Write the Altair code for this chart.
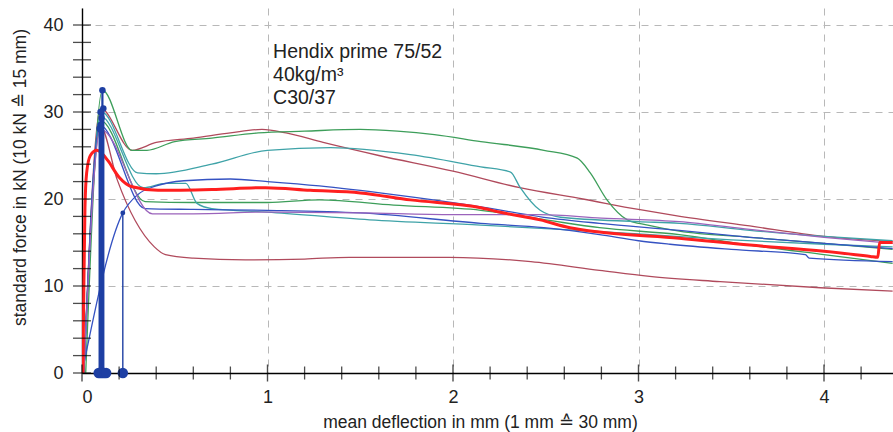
import altair as alt
import pandas as pd

# ---------------- data ----------------
series_names = ["brown_a", "brown_b", "green_a", "green_b", "teal_a", "teal_b", "blue_a", "blue_b", "purple", "mean"]
series_colors = ["#b04a5c", "#b04a5c", "#3d9e5a", "#3d9e5a", "#3fa3a8", "#3fa3a8", "#3552c2", "#3552c2", "#9b63bb", "#ff1f1f"]

brown_a_x = [0.01, 0.10, 0.27, 0.40, 0.60, 0.80, 0.97, 1.10, 1.30, 1.60, 2.00, 2.36, 2.70, 3.00, 3.20, 3.60, 4.00, 4.37]
brown_a_y = [0.0, 30.4, 25.6, 26.5, 27.0, 27.6, 28.0, 27.6, 26.5, 25.0, 23.2, 21.3, 20.0, 18.8, 18.1, 16.9, 15.7, 15.1]

brown_b_x = [0.01, 0.10, 0.19, 0.39, 0.45, 0.60, 0.88, 1.20, 1.44, 1.98, 2.42, 2.79, 3.06, 3.44, 3.98, 4.37]
brown_b_y = [0.0, 28.3, 22.2, 14.5, 13.6, 13.2, 13.0, 13.1, 13.3, 13.3, 12.8, 11.8, 11.1, 10.5, 9.8, 9.4]

green_a_x = [0.02, 0.11, 0.27, 0.35, 0.50, 0.70, 0.95, 1.20, 1.50, 1.70, 1.90, 2.15, 2.49, 2.67, 2.74, 2.83, 2.94, 3.05, 3.22, 3.60, 4.00, 4.37]
green_a_y = [0.0, 32.5, 25.6, 25.6, 26.6, 27.0, 27.6, 27.8, 28.0, 27.8, 27.4, 26.6, 25.6, 24.7, 23.0, 19.9, 17.6, 17.0, 16.3, 15.6, 14.9, 14.2]

green_b_x = [0.01, 0.10, 0.34, 0.60, 1.00, 1.28, 1.68, 2.15, 2.50, 2.79, 3.22, 3.60, 4.00, 4.37]
green_b_y = [0.0, 29.0, 19.7, 19.6, 19.6, 19.9, 19.3, 18.7, 17.6, 16.7, 15.9, 14.7, 13.6, 12.6]

teal_a_x = [0.01, 0.105, 0.30, 0.40, 0.70, 1.00, 1.34, 1.77, 2.15, 2.31, 2.36, 2.47, 2.58, 3.00, 3.22, 3.60, 4.00, 4.37]
teal_a_y = [0.0, 30.0, 23.0, 22.9, 24.0, 25.6, 25.9, 25.1, 23.7, 23.1, 21.4, 18.7, 17.9, 17.4, 17.2, 16.4, 15.7, 15.2]

teal_b_x = [0.01, 0.10, 0.33, 0.45, 0.56, 0.62, 0.70, 1.00, 1.55, 2.15, 2.50, 3.00, 3.50, 4.00, 4.37]
teal_b_y = [0.0, 29.5, 21.3, 21.8, 21.8, 19.5, 18.9, 18.5, 17.6, 17.0, 16.6, 16.0, 15.3, 14.8, 14.5]

blue_a_x = [0.00, 0.22, 0.30, 0.40, 0.55, 0.80, 1.00, 1.28, 1.68, 2.15, 2.49, 2.79, 3.22, 3.60, 4.00, 4.37]
blue_a_y = [0.0, 18.4, 20.5, 21.5, 22.1, 22.3, 22.0, 21.5, 20.5, 19.1, 17.9, 17.2, 16.4, 15.6, 14.9, 14.3]

blue_b_x = [0.01, 0.095, 0.34, 0.60, 1.00, 1.50, 2.15, 2.49, 2.79, 3.00, 3.17, 3.50, 3.90, 3.92, 4.37]
blue_b_y = [0.0, 28.5, 18.9, 18.8, 18.7, 18.4, 17.2, 16.7, 15.9, 15.2, 14.8, 14.2, 13.6, 13.2, 12.8]

purple_x = [0.01, 0.10, 0.38, 0.60, 1.00, 1.50, 2.00, 2.47, 2.80, 3.22, 3.60, 4.00, 4.37]
purple_y = [0.0, 28.0, 18.3, 18.3, 18.5, 18.4, 18.2, 18.2, 17.8, 17.4, 16.5, 15.6, 14.9]

mean_x = [0.005, 0.010, 0.016, 0.025, 0.045, 0.08, 0.11, 0.14, 0.20, 0.27, 0.41, 0.70, 0.99, 1.23, 1.50, 1.77,
          2.15, 2.25, 2.47, 2.63, 2.79, 3.22, 3.60, 4.00, 4.25, 4.29, 4.30, 4.37]
mean_y = [0.0, 10.0, 19.0, 23.0, 25.0, 25.6, 25.2, 24.4, 22.5, 21.4, 21.0, 21.1, 21.3, 21.0, 20.7, 19.9,
          19.0, 18.5, 17.6, 16.7, 16.2, 15.5, 14.7, 14.0, 13.4, 13.3, 15.0, 15.0]

# crack (peak) markers of the specimens
peak_x = [0.11, 0.115, 0.10, 0.105, 0.10, 0.095, 0.10]
peak_y = [32.5, 30.4, 30.0, 29.3, 28.5, 28.1, 28.0]
late_peak_x = [0.22]
late_peak_y = [18.4]
base_x = [0.09, 0.10, 0.11, 0.12, 0.13]

annotation_lines = ["Hendix prime 75/52", "40kg/m³", "C30/37"]
annotation_x = [1.03, 1.03, 1.03]
annotation_y = [36.2, 33.56, 30.92]

x_label_values = [0, 1, 2, 3, 4]
y_label_values = [0, 10, 20, 30, 40]
x_minor_ticks = [0.2, 0.4, 0.6, 0.8, 1.2, 1.4, 1.6, 1.8, 2.2, 2.4, 2.6, 2.8, 3.2, 3.4, 3.6, 3.8, 4.2]
y_ticks = [0, 2, 4, 6, 8, 10, 12, 14, 16, 18, 20, 22, 24, 26, 28, 30, 32, 34, 36, 38, 40]

# ---------------- tables ----------------
curves = {
    "brown_a": (brown_a_x, brown_a_y), "brown_b": (brown_b_x, brown_b_y),
    "green_a": (green_a_x, green_a_y), "green_b": (green_b_x, green_b_y),
    "teal_a": (teal_a_x, teal_a_y), "teal_b": (teal_b_x, teal_b_y),
    "blue_a": (blue_a_x, blue_a_y), "blue_b": (blue_b_x, blue_b_y),
    "purple": (purple_x, purple_y),
}
rows = []
for name, (xs, ys) in curves.items():
    for i, (a, b) in enumerate(zip(xs, ys)):
        rows.append({"series": name, "x": a, "y": b, "ord": i})
thin_df = pd.DataFrame(rows)
mean_df = pd.DataFrame({"series": "mean", "x": mean_x, "y": mean_y, "ord": range(len(mean_x))})

rule_df = pd.DataFrame({"x": peak_x, "y": [0] * len(peak_x), "y2": peak_y})
late_rule_df = pd.DataFrame({"x": late_peak_x, "y": [0], "y2": late_peak_y})
top_df = pd.DataFrame({"x": peak_x, "y": peak_y})
late_top_df = pd.DataFrame({"x": late_peak_x, "y": late_peak_y})
bottom_df = pd.DataFrame({"x": base_x + late_peak_x, "y": [0] * (len(base_x) + 1)})
text_df = pd.DataFrame({"x": annotation_x, "y": annotation_y, "t": annotation_lines})
xmin_df = pd.DataFrame({"x": x_minor_ticks, "y": [0] * len(x_minor_ticks)})
xmaj_df = pd.DataFrame({"x": x_label_values, "y": [0] * len(x_label_values)})
yt_df = pd.DataFrame({"x": [0] * len(y_ticks), "y": y_ticks})

FONT = "Liberation Sans"
x_scale = alt.Scale(domain=[0, 811 / 185.5], nice=False, zero=False)
y_scale = alt.Scale(domain=[0, 365 / 8.7], nice=False, zero=False)

x_axis = alt.Axis(values=x_label_values, format="d", title="mean deflection in mm (1 mm ≙ 30 mm)",
                  grid=True, gridDash=[7, 6], gridColor="#b8b8b8", gridWidth=1,
                  domainColor="black", domainWidth=1.4, tickSize=0, labelPadding=15,
                  labelFont=FONT, labelFontSize=18, labelColor="#222",
                  titleFont=FONT, titleFontSize=17.5, titleFontWeight="normal", titleColor="#222",
                  titleX=398, titleY=49, titleBaseline="middle", titleAlign="center")
y_axis = alt.Axis(values=y_label_values, format="d", title="standard force in kN (10 kN ≙ 15 mm)",
                  grid=True, gridDash=[7, 6], gridColor="#b8b8b8", gridWidth=1,
                  domainColor="black", domainWidth=1.4, tickSize=0, labelPadding=19,
                  labelFont=FONT, labelFontSize=18, labelColor="#222",
                  titleFont=FONT, titleFontSize=17.5, titleFontWeight="normal", titleColor="#222",
                  titleX=-62, titleY=169, titleAngle=-90, titleBaseline="middle", titleAlign="center")


def X(field="x"):
    return alt.X(f"{field}:Q", scale=x_scale, axis=x_axis)


def Y(field="y"):
    return alt.Y(f"{field}:Q", scale=y_scale, axis=y_axis)


color = alt.Color("series:N", scale=alt.Scale(domain=series_names, range=series_colors), legend=None)

thin = alt.Chart(thin_df).mark_line(strokeWidth=1.3, clip=True, interpolate="monotone").encode(
    x=X(), y=Y(), color=color, detail="series:N", order="ord:Q")
mean_line = alt.Chart(mean_df).mark_line(strokeWidth=3, clip=True, interpolate="monotone").encode(
    x=X(), y=Y(), color=color, order="ord:Q")

BLUE = "#1e3fa3"
rules = alt.Chart(rule_df).mark_rule(color=BLUE, strokeWidth=2.2).encode(x=X(), y=Y(), y2="y2:Q")
late_rule = alt.Chart(late_rule_df).mark_rule(color=BLUE, strokeWidth=1.4).encode(x=X(), y=Y(), y2="y2:Q")
tops = alt.Chart(top_df).mark_circle(color=BLUE, size=42, opacity=1).encode(x=X(), y=Y())
late_top = alt.Chart(late_top_df).mark_circle(color=BLUE, size=24, opacity=1).encode(x=X(), y=Y())
bottoms = alt.Chart(bottom_df).mark_circle(color=BLUE, size=110, opacity=1, clip=False).encode(x=X(), y=Y())

xmin_ticks = alt.Chart(xmin_df).mark_tick(orient="vertical", size=13, thickness=1.3, color="black").encode(x=X(), y=Y())
xmaj_ticks = alt.Chart(xmaj_df).mark_tick(orient="vertical", size=17, thickness=1.4, color="black").encode(x=X(), y=Y())
y_tick_marks = alt.Chart(yt_df).mark_tick(orient="horizontal", size=18, thickness=1.3, color="black").encode(x=X(), y=Y())

text = alt.Chart(text_df).mark_text(align="left", baseline="alphabetic", font=FONT, fontSize=19.5, color="#222").encode(
    x=X(), y=Y(), text="t:N")

chart = alt.layer(
    thin, mean_line, rules, late_rule, tops, late_top, bottoms,
    xmin_ticks, xmaj_ticks, y_tick_marks, text
).properties(
    width=811, height=365, autosize="none",
    padding={"left": 82, "top": 8, "right": 0, "bottom": 59},
    background="white",
).configure_view(stroke=None)

chart.save("out.html", embed_options={"renderer": "svg", "actions": False})
